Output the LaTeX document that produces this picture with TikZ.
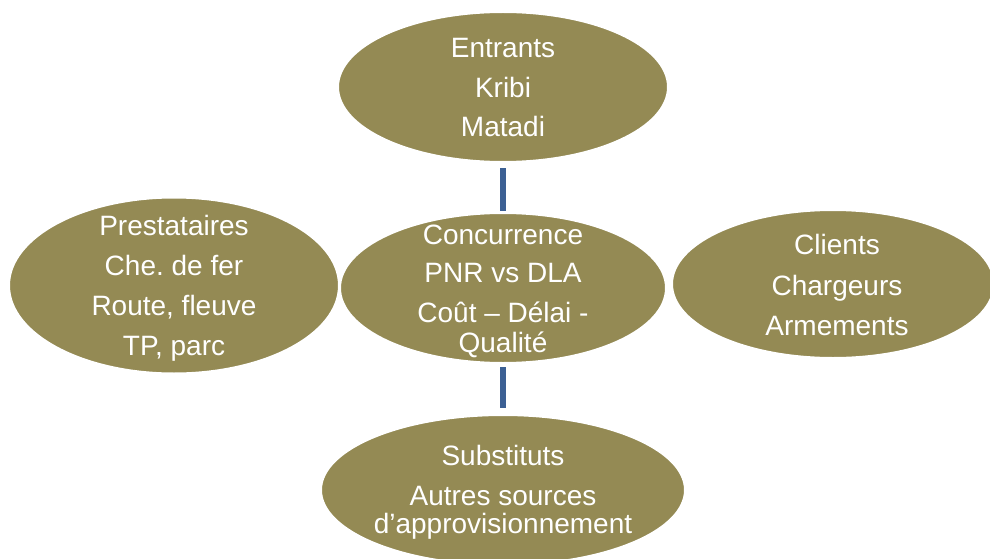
\documentclass[tikz,border=0pt]{standalone}
\usepackage{fontspec}
\setmainfont{Liberation Sans}
\frenchspacing
\usetikzlibrary{shapes.geometric}
\definecolor{olivefill}{HTML}{948A54}
\definecolor{connblue}{HTML}{3C6094}
\tikzset{
  oval/.style={ellipse, fill=olivefill, draw=white, line width=2pt, inner sep=0pt},
  ovaltext/.style={text=white, align=center, inner sep=0pt, font=\fontsize{28}{30}\selectfont},
  conn/.style={draw=connblue, line width=6pt}
}
\begin{document}
\begin{tikzpicture}[x=1pt, y=-1pt]
\useasboundingbox (0,0) rectangle (990,559);
\clip (0,0) rectangle (990,559);
% center first, outer ellipses on top
\node[oval, minimum width=326pt, minimum height=150pt] (center) at (503,288) {};
\node[oval, minimum width=330pt, minimum height=150pt] (top) at (503,87) {};
\node[oval, minimum width=330pt, minimum height=176pt] (left) at (174,285.5) {};
\node[oval, minimum width=322pt, minimum height=148pt] (right) at (833,284) {};
\node[oval, minimum width=364pt, minimum height=150pt] (bottom) at (503,490) {};

\node[ovaltext] (topt) at (503,87.5) {Entrants\\[10pt]Kribi\\[9pt]Matadi};
\node[ovaltext] (centert) at (503,291.5) {Concurrence\\[8pt]PNR vs DLA\\[10pt]Coût – Délai -\\Qualité};
\node[ovaltext] (leftt) at (174,288.5) {Prestataires\\[10pt]Che. de fer\\[10pt]Route, fleuve\\[10pt]TP, parc};
\node[ovaltext] (rightt) at (837,285) {Clients\\[11pt]Chargeurs\\[10pt]Armements};
\node[ovaltext] (bottomt) at (503,492) {Substituts\\[10pt]Autres sources\\[-2pt]d’approvisionnement};

\draw[conn] ([yshift=-5pt]top.south) -- ([yshift=1pt]center.north);
\draw[conn] ([yshift=-3pt]center.south) -- ([yshift=6pt]bottom.north);
\end{tikzpicture}
\end{document}
